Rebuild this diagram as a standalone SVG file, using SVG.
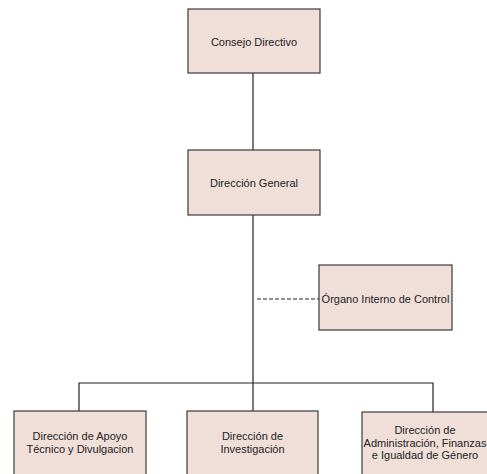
<svg xmlns="http://www.w3.org/2000/svg" width="487" height="474" viewBox="0 0 487 474">
<style>
.box{fill:#f0dfd9;stroke:#3a3a3a;stroke-width:1.2}
.t{font-family:"Liberation Sans",Arial,sans-serif;font-size:11px;fill:#222;text-anchor:middle}
.c{stroke:#222;stroke-width:1.2;fill:none}
.d{stroke:#222;stroke-width:1;stroke-dasharray:4,2;fill:none}
</style>
<rect width="487" height="474" fill="#fff"/>
<g id="connectors">
<line class="c" x1="253" y1="73" x2="253" y2="150"/>
<line class="c" x1="253" y1="215" x2="253" y2="411"/>
<line class="d" x1="257" y1="299" x2="319" y2="299"/>
<polyline class="c" points="79,411 79,383 433,383 433,412"/>
</g>
<g id="consejo">
<rect class="box" x="188" y="9" width="132" height="64"/>
<text class="t" x="254" y="46">Consejo Directivo</text>
</g>
<g id="general">
<rect class="box" x="188" y="150" width="132" height="65"/>
<text class="t" x="254" y="187">Dirección General</text>
</g>
<g id="organo">
<rect class="box" x="319" y="265" width="133" height="65"/>
<text class="t" x="385.5" y="303">Órgano Interno de Control</text>
</g>
<g id="apoyo">
<rect class="box" x="14" y="411" width="132" height="65"/>
<text class="t" x="80" y="440">Dirección de Apoyo</text>
<text class="t" x="80" y="453">Técnico y Divulgacion</text>
</g>
<g id="investigacion">
<rect class="box" x="187" y="411" width="131" height="65"/>
<text class="t" x="252.5" y="440">Dirección de</text>
<text class="t" x="252.5" y="453">Investigación</text>
</g>
<g id="administracion">
<rect class="box" x="362" y="412" width="127" height="65"/>
<text class="t" x="425" y="434">Dirección de</text>
<text class="t" x="425" y="446.5">Administración, Finanzas</text>
<text class="t" x="425" y="459">e Igualdad de Género</text>
</g>
</svg>
